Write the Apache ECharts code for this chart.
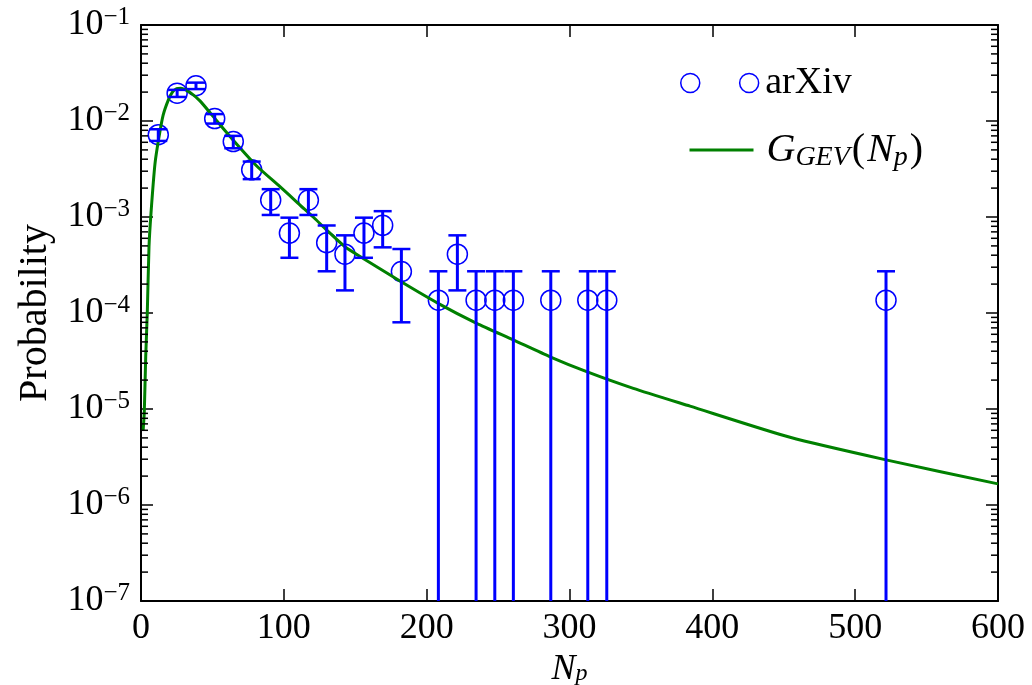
<!DOCTYPE html>
<html>
<head>
<meta charset="utf-8">
<script src="https://cdn.jsdelivr.net/npm/echarts@6/dist/echarts.min.js"></script>
<style>
html,body{margin:0;padding:0;background:#fff;}
#chart{width:1032px;height:685px;}
</style>
</head>
<body>
<div id="chart"></div>
<script>
// ---- data ----
const pointX = [12.1, 25.3, 38.5, 51.6, 64.6, 77.5, 90.8, 103.9, 117.2, 130.0, 142.8, 156.1, 169.2, 182.3, 208.2, 221.5, 234.6, 247.7, 260.7, 286.9, 312.8, 326.1, 521.6];
const pointY = [7.2e-3, 1.95e-2, 2.33e-2, 1.06e-2, 6.1e-3, 3.1e-3, 1.5e-3, 6.8e-4, 1.5e-3, 5.4e-4, 4.1e-4, 6.8e-4, 8.2e-4, 2.7e-4, 1.36e-4, 4.1e-4, 1.36e-4, 1.36e-4, 1.36e-4, 1.36e-4, 1.36e-4, 1.36e-4, 1.36e-4];
const errLow = [6.2e-3, 1.78e-2, 2.15e-2, 9.4e-3, 5.2e-3, 2.48e-3, 1.05e-3, 3.76e-4, 1.05e-3, 2.72e-4, 1.72e-4, 3.76e-4, 4.83e-4, 8.0e-5, 0, 1.72e-4, 0, 0, 0, 0, 0, 0, 0];
const errHigh = [8.2e-3, 2.11e-2, 2.51e-2, 1.18e-2, 7.0e-3, 3.78e-3, 1.95e-3, 9.84e-4, 1.95e-3, 8.16e-4, 6.44e-4, 9.84e-4, 1.15e-3, 4.64e-4, 2.72e-4, 6.44e-4, 2.72e-4, 2.72e-4, 2.72e-4, 2.72e-4, 2.72e-4, 2.72e-4, 2.72e-4];

const curveX = [1.5, 2.3, 3.3, 4.4, 5.6, 7.0, 9.8, 12.6, 15.5, 19.1, 22.0, 25.0, 28.0, 31.0, 35.0, 41.3, 50.6, 64.6, 81.0, 97.3, 110.0, 120.6, 130.0, 142.8, 155.6, 181.3, 208.0, 235.0, 260.6, 286.4, 312.0, 344.7, 384.4, 454.4, 521.6, 600.0];
const curveY = [6.0e-6, 9.3e-6, 3.5e-5, 1.0e-4, 4.9e-4, 1.1e-3, 3.6e-3, 6.8e-3, 1.15e-2, 1.65e-2, 2.0e-2, 2.18e-2, 2.2e-2, 2.12e-2, 1.95e-2, 1.62e-2, 1.11e-2, 6.3e-3, 3.4e-3, 2.07e-3, 1.39e-3, 1.0e-3, 7.3e-4, 4.9e-4, 3.7e-4, 2.15e-4, 1.26e-4, 7.8e-5, 5.25e-5, 3.5e-5, 2.45e-5, 1.64e-5, 1.07e-5, 5.07e-6, 2.95e-6, 1.66e-6];

const seriesNames = ['arXiv', 'G_GEV(N_p)'];
const xMin = 0, xMax = 600, xStep = 100;
const yMin = 1e-7, yMax = 1e-1;
const yMinorTicks = [];
for (let e = -7; e <= -2; e++) for (let m = 2; m <= 9; m++) yMinorTicks.push(m * Math.pow(10, e));

// ---- chart ----
const FONT = 'Liberation Serif';
const BLUE = '#0000ff', GREEN = '#008000';
const chart = echarts.init(document.getElementById('chart'));

const scatterData = pointX.map((x, i) => [x, pointY[i]]);
const errData = pointX.map((x, i) => [x, pointY[i], errLow[i], errHigh[i]]);
const curveData = curveX.map((x, i) => [x, curveY[i]]);

const yLabelFmt = v => {
  const e = Math.round(Math.log10(v));
  return '{b|10}{s|\u2212' + Math.abs(e) + '}';
};

chart.setOption({
  animation: false,
  backgroundColor: '#ffffff',
  grid: { left: 141, right: 34, top: 25, bottom: 84, containLabel: false, outerBoundsMode: 'none' },
  legend: [
    {
      data: [{ name: seriesNames[0], icon: 'path://M0,10 A10,10 0 1,1 20,10 A10,10 0 1,1 0,10 Z M62,10 A10,10 0 1,1 82,10 A10,10 0 1,1 62,10 Z' }],
      left: 680, top: 63, orient: 'vertical', padding: 0,
      itemWidth: 81, itemHeight: 19,
      itemStyle: { color: 'rgba(0,0,0,0)', borderColor: BLUE, borderWidth: 1.5 },
      selectedMode: false,
      formatter: 'arXiv',
      textStyle: { fontFamily: FONT, fontSize: 38, color: '#000', lineHeight: 40 }
    },
    {
      data: [seriesNames[1]],
      left: 688, top: 130, orient: 'vertical', padding: 0,
      itemWidth: 64, itemHeight: 20,
      itemStyle: { opacity: 0 },
      lineStyle: { color: GREEN, width: 3 },
      selectedMode: false,
      formatter: () => '{i|G}{sub|GEV}{n|(}{i|N}{sub|p}{n|)}',
      textStyle: {
        fontFamily: FONT, fontSize: 38, color: '#000', padding: [0, 0, 0, 8],
        rich: {
          i: { fontFamily: FONT, fontSize: 40, fontStyle: 'italic', lineHeight: 44, color: '#000' },
          n: { fontFamily: FONT, fontSize: 40, lineHeight: 44, color: '#000', padding: [0, 2, 0, 2] },
          sub: { fontFamily: FONT, fontSize: 28, fontStyle: 'italic', lineHeight: 26, verticalAlign: 'bottom', color: '#000' }
        }
      }
    }
  ],
  xAxis: [
    {
      type: 'value', min: xMin, max: xMax, interval: xStep, position: 'bottom',
      name: '{i|N}{sub|p}', nameLocation: 'middle', nameGap: 48,
      nameTextStyle: {
        rich: {
          i: { fontFamily: FONT, fontSize: 36, fontStyle: 'italic', lineHeight: 32, color: '#000' },
          sub: { fontFamily: FONT, fontSize: 24, fontStyle: 'italic', lineHeight: 18, verticalAlign: 'bottom', color: '#000' }
        }
      },
      axisLine: { show: true, onZero: false, lineStyle: { color: '#000', width: 2 } },
      axisTick: { show: true, inside: true, length: 12, lineStyle: { color: '#000', width: 1.5 } },
      axisLabel: { show: true, margin: 10, fontFamily: FONT, fontSize: 36, color: '#000' },
      splitLine: { show: false }
    },
    {
      type: 'value', min: xMin, max: xMax, interval: xStep, position: 'top',
      axisLine: { show: true, onZero: false, lineStyle: { color: '#000', width: 2 } },
      axisTick: { show: true, inside: true, length: 12, lineStyle: { color: '#000', width: 1.5 } },
      axisLabel: { show: false },
      splitLine: { show: false }
    }
  ],
  yAxis: [
    {
      type: 'log', logBase: 10, min: yMin, max: yMax, splitNumber: 6, position: 'left',
      name: 'Probability', nameLocation: 'middle', nameGap: 86, nameRotate: 90,
      nameTextStyle: { fontFamily: FONT, fontSize: 40, color: '#000' },
      axisLine: { show: true, onZero: false, lineStyle: { color: '#000', width: 2 } },
      axisTick: { show: true, inside: true, length: 12, lineStyle: { color: '#000', width: 1.5 } },
      axisLabel: {
        show: true, margin: 11, formatter: yLabelFmt,
        rich: {
          b: { fontFamily: FONT, fontSize: 36, lineHeight: 40, color: '#000' },
          s: { fontFamily: FONT, fontSize: 25, lineHeight: 23, verticalAlign: 'top', color: '#000' }
        }
      },
      splitLine: { show: false }
    },
    {
      type: 'log', logBase: 10, min: yMin, max: yMax, splitNumber: 6, position: 'right',
      axisLine: { show: true, onZero: false, lineStyle: { color: '#000', width: 2 } },
      axisTick: { show: true, inside: true, length: 12, lineStyle: { color: '#000', width: 1.5 } },
      axisLabel: { show: false },
      splitLine: { show: false }
    }
  ],
  series: [
    {
      name: seriesNames[0], type: 'scatter', xAxisIndex: 0, yAxisIndex: 0,
      data: scatterData, symbol: 'circle', symbolSize: 20, z: 3,
      itemStyle: { color: 'rgba(0,0,0,0)', borderColor: BLUE, borderWidth: 1.5, opacity: 1 },
      emphasis: { disabled: true }
    },
    {
      name: 'errorbars', type: 'custom', xAxisIndex: 0, yAxisIndex: 0, z: 5,
      data: errData,
      renderItem: (params, api) => {
        const x = api.value(0), lo = api.value(2), hi = api.value(3);
        const top = api.coord([x, hi]);
        const bot = api.coord([x, lo > 0 ? lo : yMin]);
        const half = 9;
        const children = [
          { type: 'line', shape: { x1: top[0], y1: top[1], x2: bot[0], y2: bot[1] }, style: { stroke: BLUE, lineWidth: 3 } },
          { type: 'line', shape: { x1: top[0] - half, y1: top[1], x2: top[0] + half, y2: top[1] }, style: { stroke: BLUE, lineWidth: 2.5 } }
        ];
        if (lo > 0) children.push({ type: 'line', shape: { x1: bot[0] - half, y1: bot[1], x2: bot[0] + half, y2: bot[1] }, style: { stroke: BLUE, lineWidth: 2.5 } });
        return { type: 'group', children };
      },
      silent: true
    },
    {
      name: seriesNames[1], type: 'line', xAxisIndex: 0, yAxisIndex: 0, z: 4,
      data: curveData, symbol: 'none', showSymbol: false, smooth: 0.2,
      lineStyle: { color: GREEN, width: 3 }, itemStyle: { color: GREEN }
    },
    {
      name: 'minorTicks', type: 'custom', xAxisIndex: 0, yAxisIndex: 0, z: 6, silent: true,
      data: yMinorTicks.map(v => [xMin, v]),
      renderItem: (params, api) => {
        const cs = params.coordSys;
        const y = api.coord([xMin, api.value(1)])[1];
        return { type: 'group', children: [
          { type: 'line', shape: { x1: cs.x, y1: y, x2: cs.x + 7, y2: y }, style: { stroke: '#000', lineWidth: 1.5 } },
          { type: 'line', shape: { x1: cs.x + cs.width - 7, y1: y, x2: cs.x + cs.width, y2: y }, style: { stroke: '#000', lineWidth: 1.5 } }
        ]};
      }
    }
  ]
});
</script>
</body>
</html>
